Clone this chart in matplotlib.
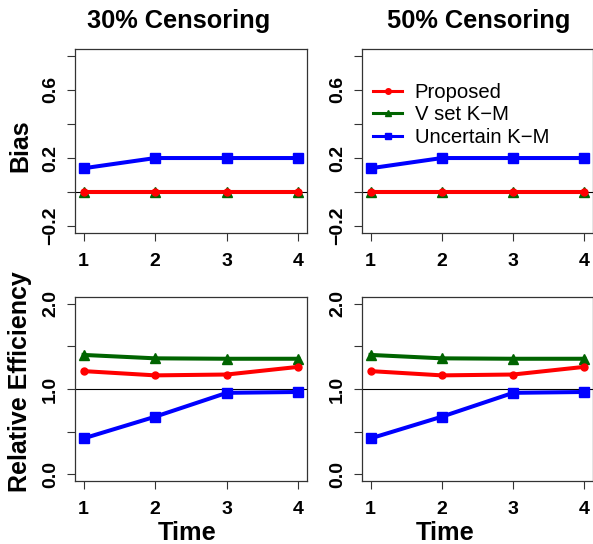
import numpy as np
import matplotlib
matplotlib.use("Agg")
import matplotlib.pyplot as plt
from matplotlib.lines import Line2D

plt.rcParams['font.family'] = ['Liberation Sans', 'DejaVu Sans']

time = [1, 2, 3, 4]
censoring = ["30% Censoring", "50% Censoring"]
methods = ["Proposed", "V set K\u2212M", "Uncertain K\u2212M"]

# bias of each estimator, per censoring level
bias_proposed = [[0.0, 0.0, 0.0, 0.0], [0.0, 0.0, 0.0, 0.0]]
bias_vset = [[0.0, 0.0, 0.0, 0.0], [0.0, 0.0, 0.0, 0.0]]
bias_uncertain = [[0.14, 0.2, 0.2, 0.2], [0.14, 0.2, 0.2, 0.2]]

# relative efficiency, per censoring level
re_proposed = [[1.21, 1.16, 1.17, 1.26], [1.21, 1.16, 1.17, 1.26]]
re_vset = [[1.40, 1.36, 1.355, 1.355], [1.40, 1.36, 1.355, 1.355]]
re_uncertain = [[0.42, 0.675, 0.955, 0.965], [0.42, 0.675, 0.955, 0.965]]

bias_ticks = [-0.2, 0.0, 0.2, 0.4, 0.6, 0.8]
bias_ticklabels = ["\u22120.2", "", "0.2", "", "0.6", ""]
re_ticks = [0.0, 0.5, 1.0, 1.5, 2.0]
re_ticklabels = ["0.0", "", "1.0", "", "2.0"]

W, H = 593, 544
fig = plt.figure(figsize=(W / 100, H / 100), dpi=100)


def px_axes(left, top, right, bottom):
    return fig.add_axes([left / W, 1 - bottom / H, (right - left) / W, (bottom - top) / H])


def style_axes(ax, ticks, ticklabels, lo, hi):
    ax.set_xlim(0.88, 4.12)
    ax.set_ylim(lo - 0.04 * (hi - lo), hi + 0.04 * (hi - lo))
    ax.set_xticks(time)
    ax.set_xticklabels([str(t) for t in time], fontweight='bold', fontsize=14)
    ax.set_yticks(ticks)
    ax.set_yticklabels(ticklabels, fontweight='bold', fontsize=14, rotation=90, va='center')
    ax.tick_params(direction='out', length=6.1, width=0.8, colors='#333333', labelcolor='black')
    ax.tick_params(axis='x', pad=8.5)
    ax.tick_params(axis='y', pad=5.5)
    for s in ax.spines.values():
        s.set_linewidth(0.9)
        s.set_color('#333333')


cols = [(75, 307), (362, 593)]
title_x = [179, 479]
time_x = [187, 445]

for i, (l, r) in enumerate(cols):
    ax = px_axes(l, 49, r, 233)
    ax.axhline(0, color='black', lw=0.8, zorder=1)
    ax.plot(time, bias_uncertain[i], color='blue', lw=2.9, marker='s', ms=7.2, zorder=3)
    ax.plot(time, bias_vset[i], color='darkgreen', lw=2.9, marker='^', ms=7, zorder=3)
    ax.plot(time, bias_proposed[i], color='red', lw=2.9, marker='o', ms=5, zorder=4)
    style_axes(ax, bias_ticks, bias_ticklabels, -0.2, 0.8)

    if i == 1:
        handles = [
            Line2D([], [], color='red', lw=2.2, marker='o', ms=4),
            Line2D([], [], color='darkgreen', lw=2.2, marker='^', ms=4.5),
            Line2D([], [], color='blue', lw=2.2, marker='s', ms=4.5),
        ]
        fig.legend(handles, methods, loc='upper left', bbox_to_anchor=(373 / W, 1 - 83 / H),
                   frameon=False, fontsize=14.6, handlelength=1.45, handletextpad=0.6,
                   borderpad=0, borderaxespad=0, labelspacing=0.17)

    ax = px_axes(l, 297, r, 481)
    ax.axhline(1.0, color='black', lw=0.8, zorder=1)
    ax.plot(time, re_vset[i], color='darkgreen', lw=2.9, marker='^', ms=7, zorder=3)
    ax.plot(time, re_proposed[i], color='red', lw=2.9, marker='o', ms=5, zorder=3)
    ax.plot(time, re_uncertain[i], color='blue', lw=2.9, marker='s', ms=7.2, zorder=3)
    style_axes(ax, re_ticks, re_ticklabels, 0.0, 2.0)

    fig.text(title_x[i] / W, 1 - 28 / H, censoring[i], ha='center', va='baseline',
             fontsize=18.3, fontweight='bold')
    fig.text(time_x[i] / W, 1 - 540 / H, "Time", ha='center', va='baseline',
             fontsize=18.3, fontweight='bold')

fig.text(27 / W, 1 - 146 / H, "Bias", rotation=90, rotation_mode='anchor',
         ha='center', va='baseline', fontsize=18, fontweight='bold')
fig.text(27 / W, 1 - 381.5 / H, "Relative Efficiency", rotation=90, rotation_mode='anchor',
         ha='center', va='baseline', fontsize=18, fontweight='bold')

fig.savefig("out.png", dpi=100)
